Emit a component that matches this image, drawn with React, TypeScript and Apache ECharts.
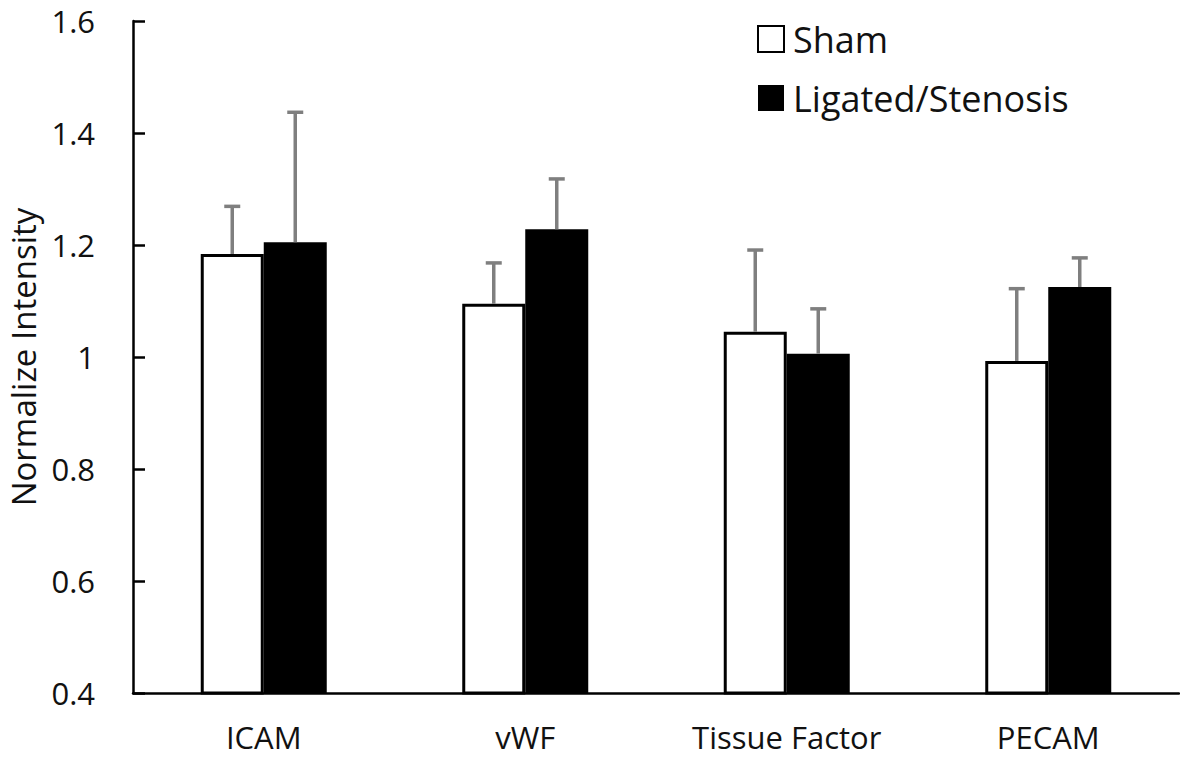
import React, { useEffect, useRef } from "react";
import * as echarts from "echarts";

const categories = ["ICAM", "vWF", "Tissue Factor", "PECAM"];
const shamValues = [1.184, 1.095, 1.045, 0.993];
const shamErrors = [0.085, 0.073, 0.146, 0.129];
const ligatedValues = [1.205, 1.228, 1.006, 1.125];
const ligatedErrors = [0.232, 0.09, 0.08, 0.052];
const yTicks = { min: 0.4, max: 1.6, interval: 0.2 };

const FONT = "'Open Sans', 'Noto Sans', sans-serif";
const BAR_W = 63;

function errorSeries(name: string, values: number[], errors: number[], offset: number) {
  return {
    name: name + " error",
    type: "custom",
    z: 5,
    silent: true,
    data: values.map((v, i) => [i, v, v + errors[i]]),
    renderItem: (params: any, api: any) => {
      const i = api.value(0);
      const base = api.coord([i, api.value(1)]);
      const top = api.coord([i, api.value(2)]);
      const x = base[0] + offset;
      const style = { stroke: "#7f7f7f", lineWidth: 3.5 };
      return {
        type: "group",
        children: [
          { type: "line", shape: { x1: x, y1: base[1], x2: x, y2: top[1] }, style },
          { type: "line", shape: { x1: x - 8, y1: top[1], x2: x + 8, y2: top[1] }, style },
        ],
      };
    },
  };
}

export default function App() {
  const ref = useRef<HTMLDivElement>(null);
  useEffect(() => {
    document.body.style.margin = "0";
    const chart = echarts.init(ref.current!, null, { renderer: "svg" });
    chart.setOption({
      animation: false,
      backgroundColor: "#ffffff",
      textStyle: { fontFamily: FONT },
      grid: {
        left: 133,
        right: 1,
        top: 21,
        bottom: 65,
        containLabel: false,
        outerBoundsMode: "none",
      },
      legend: {
        orient: "vertical",
        left: 752,
        top: 16,
        itemWidth: 26,
        itemHeight: 26,
        itemGap: 23,
        data: [
          { name: "Sham", icon: "rect" },
          { name: "Ligated/Stenosis", icon: "rect" },
        ],
        textStyle: {
          fontFamily: FONT,
          fontSize: 36,
          lineHeight: 32,
          color: "#111",
          padding: [0, 0, 0, 4],
        },
      },
      xAxis: {
        type: "category",
        data: categories,
        axisLine: { lineStyle: { color: "#000", width: 2.5 } },
        axisTick: { show: false },
        axisLabel: { color: "#111", fontSize: 31, lineHeight: 24, fontFamily: FONT, margin: 32 },
      },
      yAxis: {
        type: "value",
        min: yTicks.min,
        max: yTicks.max,
        interval: yTicks.interval,
        name: "Normalize Intensity",
        nameLocation: "middle",
        nameGap: 95,
        nameTextStyle: { color: "#111", fontSize: 33, lineHeight: 30, fontFamily: FONT },
        axisLine: { show: true, lineStyle: { color: "#000", width: 2.5 } },
        axisTick: { show: true, inside: true, length: 12, lineStyle: { color: "#000", width: 2.5 } },
        axisLabel: { color: "#111", fontSize: 31, lineHeight: 28, fontFamily: FONT, margin: 38 },
        splitLine: { show: false },
      },
      series: [
        {
          name: "Sham",
          type: "bar",
          data: shamValues,
          barWidth: BAR_W,
          barGap: "0%",
          itemStyle: { color: "#ffffff", borderColor: "#000", borderWidth: 3 },
        },
        {
          name: "Ligated/Stenosis",
          type: "bar",
          data: ligatedValues,
          barWidth: BAR_W,
          barGap: "0%",
          itemStyle: { color: "#000000", borderColor: "#000", borderWidth: 0 },
        },
        errorSeries("Sham", shamValues, shamErrors, -BAR_W / 2),
        errorSeries("Ligated/Stenosis", ligatedValues, ligatedErrors, BAR_W / 2),
      ],
    });
    return () => chart.dispose();
  }, []);
  return <div ref={ref} style={{ width: 1180, height: 758 }} />;
}
